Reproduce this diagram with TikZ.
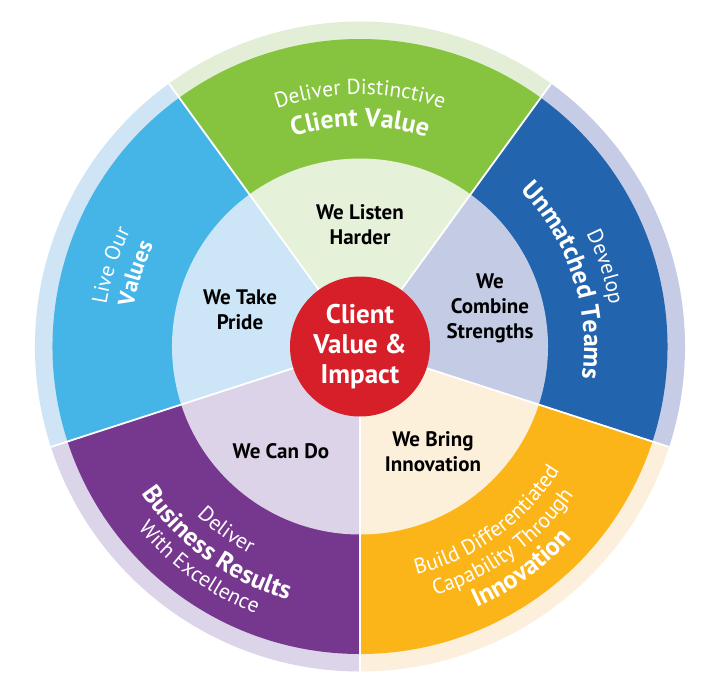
\documentclass[tikz,border=0pt]{standalone}
\usepackage{fontspec}
\setmainfont{PT Sans}
\usetikzlibrary{decorations.text}
\definecolor{cGreen}{HTML}{86C440}
\definecolor{cGreenIn}{HTML}{E6F1DA}
\definecolor{cGreenOut}{HTML}{E3EED7}
\definecolor{cSky}{HTML}{45B5E8}
\definecolor{cSkyIn}{HTML}{CDE6F7}
\definecolor{cSkyOut}{HTML}{CFE4F4}
\definecolor{cNavy}{HTML}{2264AE}
\definecolor{cNavyIn}{HTML}{C4CBE5}
\definecolor{cNavyOut}{HTML}{C6CCE6}
\definecolor{cPurple}{HTML}{76388F}
\definecolor{cPurpleIn}{HTML}{DCD3E8}
\definecolor{cPurpleOut}{HTML}{DCD4E8}
\definecolor{cOrange}{HTML}{FBB518}
\definecolor{cOrangeIn}{HTML}{FDF0DA}
\definecolor{cOrangeOut}{HTML}{FCF0DC}
\definecolor{cRed}{HTML}{D71F29}
\newcommand\wheelsector[4]{\fill[#4] (0,0) -- (#1:#3pt) arc[start angle=#1, end angle=#2, radius=#3pt] -- cycle;}
\newcommand\arctext[5]{\path[decorate, decoration={text along path, text align=center, text={|#4|#5}}] (#1:#3pt) arc[start angle=#1, end angle=#2, radius=#3pt];}
\newcommand\regf{\color{white}\fontsize{21.5}{21.5}\selectfont}
\newcommand\boldf{\color{white}\bfseries\fontsize{26}{26}\selectfont}
\newcommand\boldsmallf{\color{white}\bfseries\fontsize{23}{23}\selectfont}
\tikzset{
  innerlabel/.style={font=\bfseries\fontsize{21}{25}\selectfont, text=black, align=center, inner sep=0pt},
  hub/.style={circle, fill=cRed, minimum size=140pt, inner sep=0pt, text=white, align=center,
    font=\bfseries\fontsize{27}{30}\selectfont},
  divider/.style={white, line width=1.8pt},
}
\begin{document}
\begin{tikzpicture}[x=1pt,y=1pt]
\fill[white] (-360,-326.5) rectangle (360,346.5);
\useasboundingbox (-360,-326.5) rectangle (360,346.5);
% outer light ring
\wheelsector{54}{126}{325}{cGreenOut}
\wheelsector{126}{198}{325}{cSkyOut}
\wheelsector{198}{270}{325}{cPurpleOut}
\wheelsector{270}{342}{325}{cOrangeOut}
\wheelsector{-18}{54}{325}{cNavyOut}
% main ring
\wheelsector{54}{126}{307.5}{cGreen}
\wheelsector{126}{198}{307.5}{cSky}
\wheelsector{198}{270}{307.5}{cPurple}
\wheelsector{270}{342}{307.5}{cOrange}
\wheelsector{-18}{54}{307.5}{cNavy}
% inner ring
\wheelsector{54}{126}{188}{cGreenIn}
\wheelsector{126}{198}{188}{cSkyIn}
\wheelsector{198}{270}{188}{cPurpleIn}
\wheelsector{270}{342}{188}{cOrangeIn}
\wheelsector{-18}{54}{188}{cNavyIn}
% dividers
\foreach \a in {-90,-18,54,126,198} \draw[divider] (0,0) -- (\a:325pt);
% hub
\node[hub] (hub) at (0,0) {Client\\Value \&\\Impact};
% inner labels
\node[innerlabel] (listen) at (0,121.5) {We Listen\\Harder};
\node[innerlabel] (pride) at (-120,36.5) {We Take\\Pride};
\node[innerlabel] (combine) at (130,38) {We\\Combine\\Strengths};
\node[innerlabel] (cando) at (-79,-104.5) {We Can Do};
\node[innerlabel] (bring) at (73,-105) {We Bring\\Innovation};
% green
\arctext{124}{56}{252}{\regf}{Deliver Distinctive}
\arctext{124}{56}{220}{\boldf}{Client Value}
% light blue
\arctext{196}{128}{257}{\regf}{Live Our}
\arctext{196}{128}{230}{\boldsmallf}{Values}
% navy
\arctext{52}{-16}{253}{\regf}{Develop}
\arctext{52}{-16}{224}{\boldf}{Unmatched Teams}
% purple
\arctext{200}{268}{235}{\regf}{Deliver}
\arctext{200}{268}{263}{\boldf}{Business Results}
\arctext{200}{268}{287}{\regf}{With Excellence}
% orange
\arctext{272}{340}{235}{\regf}{Build Differentiated}
\arctext{272}{340}{260}{\regf}{Capability Through}
\arctext{272}{340}{286}{\boldf}{Innovation}
\end{tikzpicture}
\end{document}
